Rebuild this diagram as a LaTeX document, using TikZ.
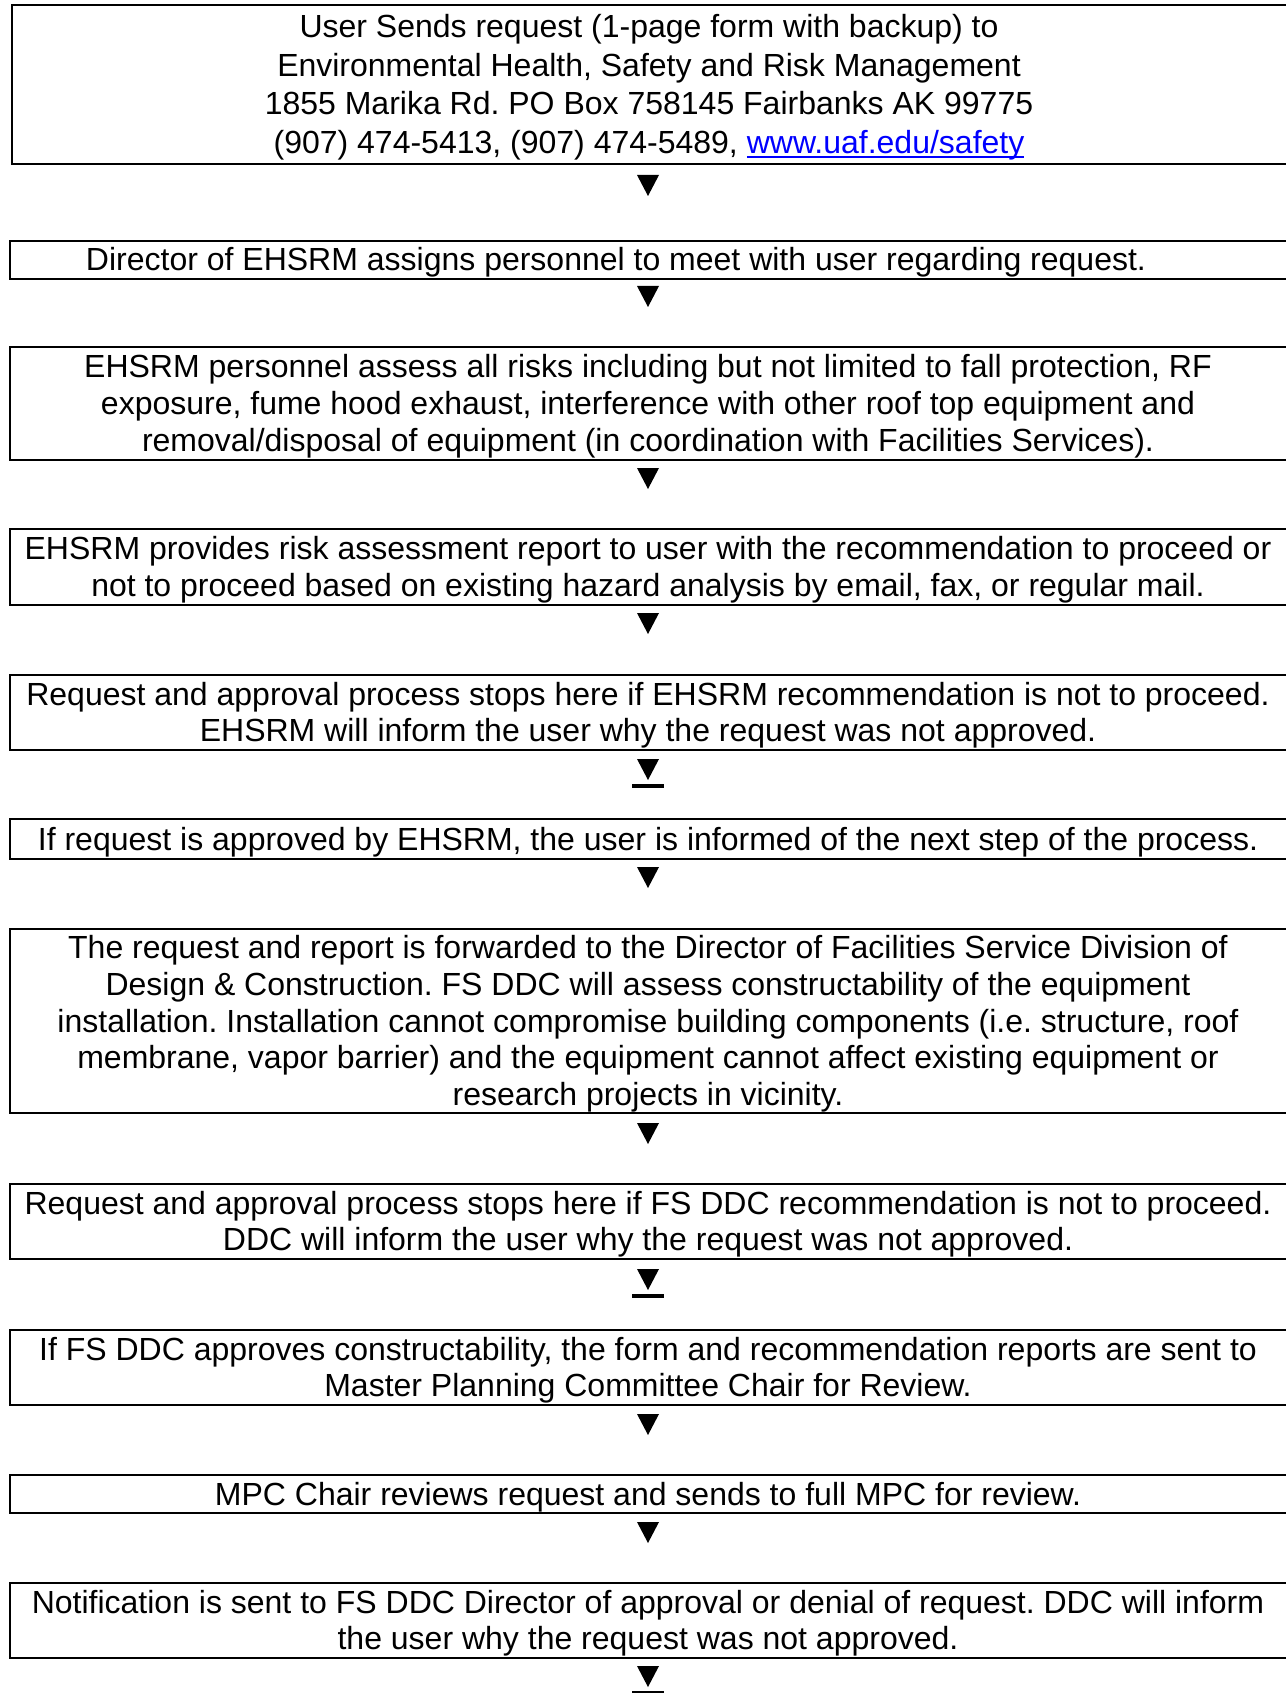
\documentclass[tikz,border=0pt]{standalone}
\usepackage{fontspec}
\setmainfont{Liberation Sans}
\definecolor{linkblue}{RGB}{0,0,255}
\newcommand\mystrut{\rule[-7.4pt]{0pt}{36.8pt}}
\newcommand\bigstrut{\rule[-8.4pt]{0pt}{38.8pt}}
\newcommand\linkul[1]{\setbox0\hbox{#1}\rlap{\rule[-4pt]{\wd0}{2pt}}\box0}
\newcommand\flowbox[5][648]{%
  \node[box, minimum height={#4-#3}] (#2) at (#1,{(#3+#4)/2}) {#5};
  \draw[boxline] (#2.north west) rectangle ([xshift=12pt]#2.south east);}
\newcommand\downtri[2]{%
  \coordinate (#1) at (648,#2);
  \fill[black] (#1) ++(-11,0) -- ++(22,0) -- ++(-11,21) -- cycle;}
\newcommand\downtriul[2]{%
  \downtri{#1}{#2}
  \draw[black, line width=3.5pt] (#1) ++(-16,27) -- ++(32,0);}
\begin{document}
\frenchspacing
\begin{tikzpicture}[x=1pt,y=-1pt,
  box/.style={draw=none, inner sep=0pt, align=center,
    minimum width=1276pt, font=\fontsize{32pt}{36.8pt}\selectfont\frenchspacing},
  boxline/.style={draw=black, line width=2pt},
  bigbox/.style={font=\fontsize{32pt}{38.8pt}\selectfont\frenchspacing}
  ]
\fill[white] (0,0) rectangle (1285,1693);
\useasboundingbox (0,0) rectangle (1285,1693);

\node[box, bigbox, minimum width=1274pt, minimum height=159pt] (b1) at (649,84.5)
 {\bigstrut User Sends request (1-page form with backup) to\\
  \bigstrut Environmental Health, Safety and Risk Management\\
  \bigstrut 1855 Marika Rd. PO Box 758145 Fairbanks AK 99775\\
  \bigstrut (907) 474-5413, (907) 474-5489, \textcolor{linkblue}{\linkul{www.uaf.edu/safety}}};
\draw[boxline] (b1.north west) rectangle ([xshift=12pt]b1.south east);
\downtri{a1}{175}

\flowbox{b2}{241}{279}{\mystrut Director of EHSRM assigns personnel to meet with user regarding request.\hspace*{64pt}}
\downtri{a2}{286}

\flowbox{b3}{347}{460}{\mystrut EHSRM personnel assess all risks including but not limited to fall protection, RF\\
 \mystrut exposure, fume hood exhaust, interference with other roof top equipment and\\
 \mystrut removal/disposal of equipment (in coordination with Facilities Services).}
\downtri{a3}{468}

\flowbox{b4}{529}{605}{\mystrut EHSRM provides risk assessment report to user with the recommendation to proceed or\\
 \mystrut not to proceed based on existing hazard analysis by email, fax, or regular mail.}
\downtri{a4}{613}

\flowbox{b5}{675}{750}{\mystrut Request and approval process stops here if EHSRM recommendation is not to proceed.\\
 \mystrut EHSRM will inform the user why the request was not approved.}
\downtriul{a5}{759}

\flowbox{b6}{819}{859}{\mystrut If request is approved by EHSRM, the user is informed of the next step of the process.}
\downtri{a6}{867}

\flowbox{b7}{929}{1113}{\mystrut The request and report is forwarded to the Director of Facilities Service Division of\\
 \mystrut Design \& Construction. FS DDC will assess constructability of the equipment\\
 \mystrut installation. Installation cannot compromise building components (i.e. structure, roof\\
 \mystrut membrane, vapor barrier) and the equipment cannot affect existing equipment or\\
 \mystrut research projects in vicinity.}
\downtri{a7}{1123}

\flowbox{b8}{1184}{1259}{\mystrut Request and approval process stops here if FS DDC recommendation is not to proceed.\\
 \mystrut DDC will inform the user why the request was not approved.}
\downtriul{a8}{1269}

\flowbox{b9}{1330}{1405}{\mystrut If FS DDC approves constructability, the form and recommendation reports are sent to\\
 \mystrut Master Planning Committee Chair for Review.}
\downtri{a9}{1414}

\flowbox{b10}{1476}{1512}{\mystrut MPC Chair reviews request and sends to full MPC for review.}
\downtri{a10}{1522}

\flowbox{b11}{1583}{1658}{\mystrut Notification is sent to FS DDC Director of approval or denial of request. DDC will inform\\
 \mystrut the user why the request was not approved.}
\downtriul{a11}{1666}
\end{tikzpicture}
\end{document}
